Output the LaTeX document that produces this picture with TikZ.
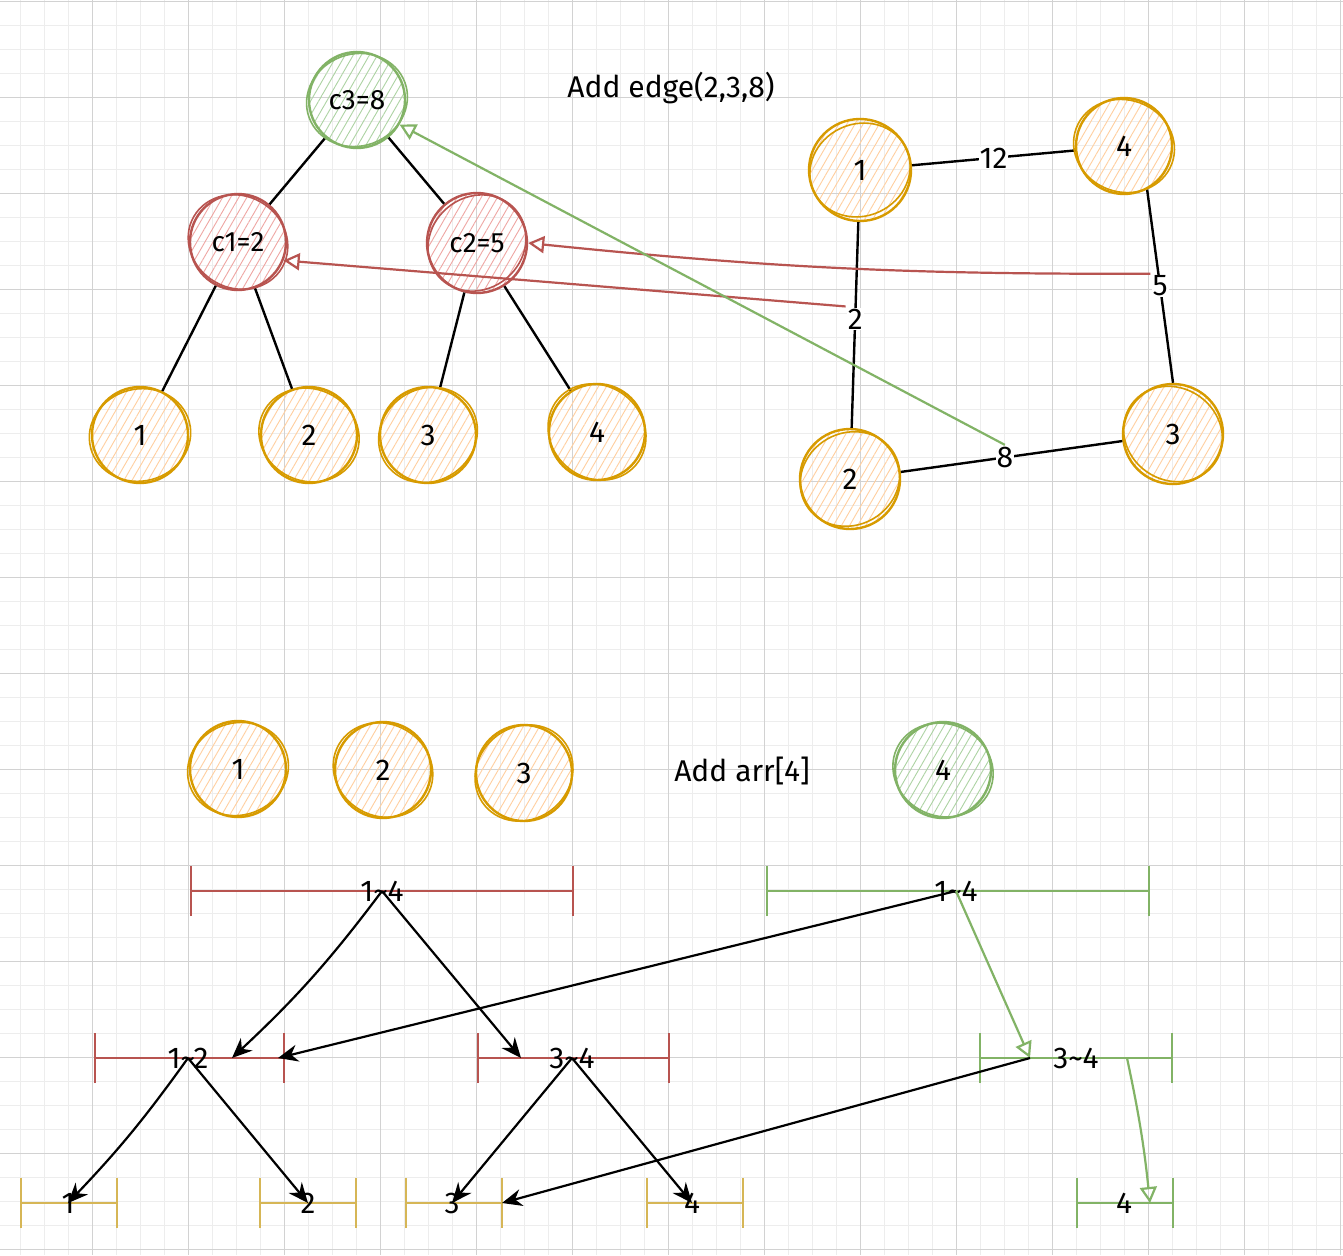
\documentclass[tikz,border=0pt]{standalone}
\usepackage{fontspec}
\setmainfont{Fira Sans}
\usetikzlibrary{arrows.meta, patterns.meta}

\definecolor{orangeline}{HTML}{D79B00}
\definecolor{orangefill}{HTML}{FFCF9F}
\definecolor{redline}{HTML}{B85450}
\definecolor{redfill}{HTML}{EFA6A3}
\definecolor{greenline}{HTML}{82B366}
\definecolor{greenfill}{HTML}{ADD3A3}
\definecolor{yellowline}{HTML}{D6B656}
\definecolor{gridmajor}{HTML}{D2D2D2}
\definecolor{gridminor}{HTML}{EDEDED}

\newcommand{\labelfont}{\fontsize{30}{34}\selectfont}
\newcommand{\cfont}{\fontsize{28}{32}\selectfont}

\tikzset{
  hatch/.style={pattern={Lines[angle=60,distance=7pt,line width=0.9pt]}, pattern color=#1},
  ball/.style={circle, draw=#1line, hatch=#1fill, line width=2.4pt, minimum size=96pt, inner sep=0pt, font=\labelfont},
  sketch/.style={line width=1.6pt},
  edge/.style={line width=2.4pt, black},
  wlabel/.style={fill=white, inner sep=1pt, font=\labelfont},
  note/.style={inner sep=0pt, font=\labelfont},
  seg/.style={draw=#1, line width=2.4pt, arrows={Bar[width=50pt]-Bar[width=50pt]}},
  seglabel/.style={inner sep=1pt, font=\labelfont},
  tree/.style={line width=2.2pt, black, -{Stealth[length=20pt, width=17pt]}},
  redarrow/.style={line width=2.2pt, redline, -{Triangle[open, length=16pt, width=17pt]}},
  greenarrow/.style={line width=2.2pt, greenline, -{Triangle[open, length=16pt, width=17pt]}}
}

\begin{document}
\begin{tikzpicture}[x=1pt, y=-1pt]
\useasboundingbox (0,0) rectangle (1343,1255);
\fill[white] (0,0) rectangle (1343,1255);

% grid
\foreach \i in {0,...,55} \draw[gridminor, line width=0.9pt] ({20+24*\i},0) -- ({20+24*\i},1255);
\foreach \i in {0,...,52} \draw[gridminor, line width=0.9pt] (0,{1+24*\i}) -- (1343,{1+24*\i});
\foreach \i in {0,...,13} \draw[gridmajor, line width=0.9pt] ({92+96*\i},0) -- ({92+96*\i},1255);
\foreach \i in {0,...,13} \draw[gridmajor, line width=0.9pt] (0,{1+96*\i}) -- (1343,{1+96*\i});

% union tree
\node[ball=green, font=\cfont] (c3) at (357,100) {c3=8};
\node[ball=red, font=\cfont] (c1) at (238,242) {c1=2};
\node[ball=red, font=\cfont, minimum size=100pt] (c2) at (477,243) {c2=5};
\node[ball=orange] (t1) at (140,435) {1};
\node[ball=orange] (t2) at (309,435) {2};
\node[ball=orange] (t3) at (428,435) {3};
\node[ball=orange] (t4) at (597,432) {4};
\draw[edge] (c3) -- (c1);
\draw[edge] (c3) -- (c2);
\draw[edge] (c1) -- (t1);
\draw[edge] (c1) -- (t2);
\draw[edge] (c2) -- (t3);
\draw[edge] (c2) -- (t4);

\node[note] (addedge) at (671,88) {Add edge(2,3,8)};

% graph
\node[ball=orange, minimum size=102pt] (g1) at (860,170) {1};
\node[ball=orange] (g4) at (1124,146) {4};
\node[ball=orange, minimum size=100pt] (g2) at (850,479) {2};
\node[ball=orange, minimum size=100pt] (g3) at (1173,434) {3};
\draw[edge] (g1) -- node[wlabel] (w12) {12} (g4);
\draw[edge] (g4.-62) -- node[wlabel] (w5) {5} (g3.90);
\draw[edge] (g1) -- node[wlabel, pos=0.47] (w2) {2} (g2);
\draw[edge] (g2) -- node[wlabel, pos=0.47] (w8) {8} (g3);

\draw[redarrow] (w5.north west) to[bend left=3] (c2.east);
\draw[redarrow] (w2.north west) -- (c1.-22);
\draw[greenarrow] (w8.north) -- (c3.-30);

% array
\node[ball=orange] (a1) at (238,769) {1};
\node[ball=orange] (a2) at (383,770) {2};
\node[ball=orange] (a3) at (524,773) {3};
\node[note] (addarr) at (742,771) {Add arr[4]};
\node[ball=green] (a4) at (943,770) {4};

% second pencil stroke round each circle
\foreach \n/\c/\a in {c3/greenline/20, c1/redline/-30, c2/redline/40, t1/orangeline/15, t2/orangeline/-25, t3/orangeline/35, t4/orangeline/-40,
  g1/orangeline/25, g4/orangeline/-20, g2/orangeline/30, g3/orangeline/-35, a1/orangeline/20, a2/orangeline/-30, a3/orangeline/40, a4/greenline/-25}
  \draw[\c, sketch, rotate around={\a:(\n.center)}] (\n.center) ellipse (51 and 46);

% segment tree
\draw[seg=redline] (190,891) -- (574,891);
\draw[seg=greenline] (766,891) -- (1150,891);
\draw[seg=redline] (94,1058) -- (285,1058);
\draw[seg=redline] (477,1058) -- (670,1058);
\draw[seg=greenline] (979,1058) -- (1173,1058);
\draw[seg=yellowline] (20,1203) -- (118,1203);
\draw[seg=yellowline] (259,1203) -- (357,1203);
\draw[seg=yellowline] (405,1203) -- (503,1203);
\draw[seg=yellowline] (646,1203) -- (744,1203);
\draw[seg=greenline] (1076,1203) -- (1174,1203);

\node[seglabel] (r14) at (382,891) {1\textasciitilde4};
\node[seglabel] (g14) at (956,891) {1\textasciitilde4};
\node[seglabel] (r12) at (188,1058) {1\textasciitilde2};
\node[seglabel] (r34) at (572,1058) {3\textasciitilde4};
\node[seglabel] (g34) at (1076,1058) {3\textasciitilde4};
\node[seglabel] (l1) at (68,1203) {1};
\node[seglabel] (l2) at (308,1203) {2};
\node[seglabel] (l3) at (452,1203) {3};
\node[seglabel] (l4) at (692,1203) {4};
\node[seglabel] (gl4) at (1124,1203) {4};

\draw[tree] (r14.center) to[bend left=5] ([xshift=44pt]r12.center);
\draw[tree] (r14.center) -- ([xshift=-51pt]r34.center);
\draw[tree] (g14.center) -- ([xshift=90pt]r12.center);
\draw[greenarrow] (g14.center) -- ([xshift=-46pt]g34.center);
\draw[tree] (r12.center) to[bend left=4] (l1.center);
\draw[tree] (r12.center) -- (l2.center);
\draw[tree] (r34.center) -- (l3.center);
\draw[tree] (r34.center) -- (l4.center);
\draw[tree] ([xshift=-46pt]g34.center) -- ([xshift=50pt]l3.center);
\draw[greenarrow] ([xshift=51pt]g34.center) to[bend left=3] ([xshift=26pt]gl4.center);
\end{tikzpicture}
\end{document}
